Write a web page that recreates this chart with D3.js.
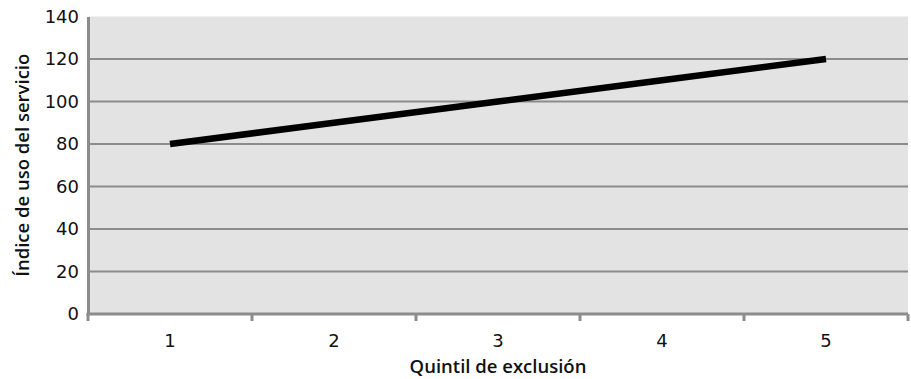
<!DOCTYPE html>
<html>
<head>
<meta charset="utf-8">
<script src="https://cdn.jsdelivr.net/npm/d3@7/dist/d3.min.js"></script>
<style>
  html, body { margin: 0; padding: 0; background: #fff; }
  svg { display: block; font-family: "Open Sans", "DejaVu Sans", sans-serif; }
  .tick-label { font-family: "DejaVu Sans", sans-serif; font-size: 18px; fill: #111; }
  .axis-title { font-family: "Open Sans", sans-serif; font-size: 18.5px; font-weight: 600; fill: #111; }
</style>
</head>
<body>
<svg id="chart" width="911" height="379"></svg>
<script>
// Service-use index by exclusion quintile
const quintiles = ["1", "2", "3", "4", "5"];
const indexValues = [80, 90, 100, 110, 120];
const yTicks = [0, 20, 40, 60, 80, 100, 120, 140];
const xTitle = "Quintil de exclusión";
const yTitle = "Índice de uso del servicio";

const svg = d3.select("#chart");
const margin = { left: 88, right: 3, top: 16.5, bottom: 65 };
const W = 911, H = 379;
const innerW = W - margin.left - margin.right;
const innerH = H - margin.top - margin.bottom;

const x = d3.scaleBand().domain(quintiles).range([margin.left, margin.left + innerW]);
const y = d3.scaleLinear().domain([0, 140]).range([margin.top + innerH, margin.top]);

// plot background
svg.append("rect")
  .attr("x", margin.left).attr("y", margin.top)
  .attr("width", innerW).attr("height", innerH)
  .attr("fill", "#e3e3e3");

// horizontal gridlines
svg.append("g").selectAll("line")
  .data(yTicks.filter(d => d > 0 && d < 140))
  .join("line")
  .attr("x1", margin.left).attr("x2", margin.left + innerW)
  .attr("y1", d => y(d)).attr("y2", d => y(d))
  .attr("stroke", "#8c8c8c").attr("stroke-width", 2);

// y axis
const yAxis = d3.axisLeft(y).tickValues(yTicks).tickSize(0).tickPadding(9);
const gy = svg.append("g").attr("transform", `translate(${margin.left},0)`).call(yAxis);
gy.attr("font-size", null).attr("font-family", null);
gy.select(".domain").attr("stroke", "#8c8c8c").attr("stroke-width", 3);
gy.selectAll("text").attr("class", "tick-label").attr("fill", null);

// x axis with ticks at band boundaries
const gx = svg.append("g").attr("transform", `translate(0,${y(0)})`);
gx.append("line")
  .attr("x1", margin.left - 1.5).attr("x2", margin.left + innerW)
  .attr("stroke", "#8c8c8c").attr("stroke-width", 3);
const bounds = quintiles.map(q => x(q)).concat([x(quintiles[quintiles.length - 1]) + x.bandwidth()]);
gx.selectAll("line.tick")
  .data(bounds)
  .join("line").attr("class", "tick")
  .attr("x1", d => d).attr("x2", d => d)
  .attr("y1", 0).attr("y2", 7)
  .attr("stroke", "#8c8c8c").attr("stroke-width", 3);
gx.selectAll("text")
  .data(quintiles)
  .join("text")
  .attr("class", "tick-label")
  .attr("x", d => x(d) + x.bandwidth() / 2)
  .attr("y", 33)
  .attr("text-anchor", "middle")
  .text(d => d);

// data line
const line = d3.line()
  .x((d, i) => x(quintiles[i]) + x.bandwidth() / 2)
  .y(d => y(d));
svg.append("path")
  .datum(indexValues)
  .attr("d", line)
  .attr("fill", "none")
  .attr("stroke", "#000")
  .attr("stroke-width", 6.5)
  .attr("stroke-linecap", "butt");

// axis titles
svg.append("text")
  .attr("class", "axis-title")
  .attr("x", margin.left + innerW / 2).attr("y", 373)
  .attr("text-anchor", "middle")
  .text(xTitle);
svg.append("text")
  .attr("class", "axis-title")
  .attr("transform", `translate(29,${margin.top + innerH / 2}) rotate(-90)`)
  .attr("text-anchor", "middle")
  .text(yTitle);
</script>
</body>
</html>
